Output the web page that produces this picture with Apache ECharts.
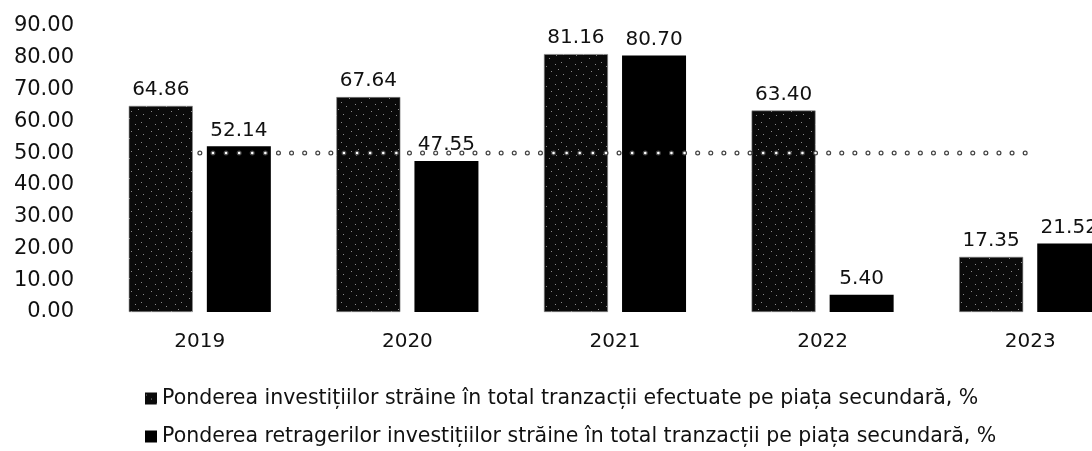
<!DOCTYPE html>
<html>
<head>
<meta charset="utf-8">
<script src="https://cdn.jsdelivr.net/npm/echarts@6/dist/echarts.min.js"></script>
<style>
  html, body { margin: 0; padding: 0; background: #fff; }
  #chart { width: 1092px; height: 451px; }
</style>
</head>
<body>
<div id="chart"></div>
<script>
  const years = ['2019', '2020', '2021', '2022', '2023']
  const investitii = [64.86, 67.64, 81.16, 63.40, 17.35]
  const retrageri = [52.14, 47.55, 80.70, 5.40, 21.52]
  const prag = [50, 50, 50, 50, 50]
  const seriesNames = [
    'Ponderea investițiilor străine în total tranzacții efectuate pe piața secundară, %',
    'Ponderea retragerilor investițiilor străine în total tranzacții pe piața secundară, %'
  ]

  const font = 'DejaVu Sans'
  let chart = echarts.init(document.getElementById('chart'))

  // speckled texture for the first series
  function speckle() {
    let c = document.createElement('canvas')
    c.width = 20
    c.height = 20
    let ctx = c.getContext('2d')
    ctx.fillStyle = '#0a0a0a'
    ctx.fillRect(0, 0, 20, 20)
    ctx.fillStyle = 'rgba(220,220,220,0.6)'
    let specks = [[1, 2], [6, 6], [11, 11], [16, 15], [3, 14], [9, 18], [15, 4], [18, 9]]
    specks.forEach(s => ctx.fillRect(s[0], s[1], 1, 1))
    return c
  }

  const barLabel = {
    show: true,
    position: 'top',
    distance: 6,
    color: '#111',
    fontFamily: font,
    fontSize: 20,
    formatter: p => p.value.toFixed(2)
  }

  const legendItem = (name, top) => ({
    data: [name],
    left: 140,
    top: top,
    itemWidth: 12,
    itemHeight: 12,
    icon: 'rect',
    selectedMode: false,
    itemStyle: { borderWidth: 0 },
    textStyle: { color: '#111', fontSize: 20.5, fontFamily: font }
  })

  const dotLine = (color, width, z) => ({
    name: 'prag',
    type: 'line',
    data: prag,
    symbol: 'none',
    silent: true,
    z: z,
    lineStyle: { color: color, width: width, type: [0.1, 13], cap: 'round' }
  })

  chart.setOption({
    animation: false,
    textStyle: { fontFamily: font },
    // the last group is cut by the right edge in the original
    grid: { left: 96, width: 1038, top: 26, bottom: 139, outerBoundsMode: 'none' },
    legend: [
      legendItem(seriesNames[0], 383),
      legendItem(seriesNames[1], 421)
    ],
    xAxis: {
      type: 'category',
      data: years,
      axisLine: { show: false },
      axisTick: { show: false },
      axisLabel: { color: '#111', fontSize: 20, margin: 20, fontFamily: font }
    },
    yAxis: {
      type: 'value',
      min: 0,
      max: 90,
      interval: 10,
      axisLine: { show: false },
      axisTick: { show: false },
      splitLine: { show: false },
      axisLabel: {
        color: '#111',
        fontSize: 21,
        margin: 22,
        fontFamily: font,
        formatter: v => v.toFixed(2)
      }
    },
    series: [
      {
        name: seriesNames[0],
        type: 'bar',
        data: investitii,
        barWidth: 64,
        barGap: '22%',
        itemStyle: {
          color: { image: speckle(), repeat: 'repeat' },
          borderColor: '#888',
          borderWidth: 0.6
        },
        label: barLabel
      },
      {
        name: seriesNames[1],
        type: 'bar',
        data: retrageri,
        barWidth: 64,
        itemStyle: { color: '#000' },
        label: barLabel
      },
      dotLine('#444', 5, 10),
      dotLine('#fff', 2.5, 11)
    ]
  })
</script>
</body>
</html>
